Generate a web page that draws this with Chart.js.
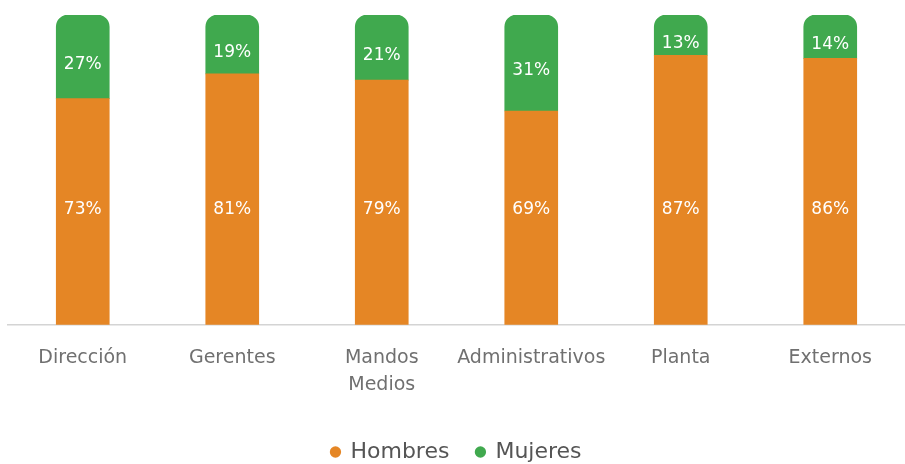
<!DOCTYPE html>
<html>
<head>
<meta charset="utf-8">
<script src="https://cdn.jsdelivr.net/npm/chart.js@4/dist/chart.umd.min.js"></script>
<style>
html,body{margin:0;padding:0;background:#fff;}
#wrap{width:905px;height:464px;position:relative;}
</style>
</head>
<body>
<div id="wrap"><canvas id="c" width="905" height="464"></canvas></div>
<script>
const categories = ['Dirección', 'Gerentes', ['Mandos', 'Medios'], 'Administrativos', 'Planta', 'Externos'];
const hombres = [73, 81, 79, 69, 87, 86];
const mujeres = [27, 19, 21, 31, 13, 14];
const seriesNames = ['Hombres', 'Mujeres'];

const FONT = "'DejaVu Sans', 'Open Sans', sans-serif";
const ORANGE_LABEL_LEVEL = 37.5; // label level (percent of axis) for the lower segment

const labelPlugin = {
  id: 'segLabels',
  afterDatasetsDraw(chart) {
    const ctx = chart.ctx;
    const yScale = chart.scales.y;
    ctx.save();
    ctx.fillStyle = '#ffffff';
    ctx.font = '17px ' + FONT;
    ctx.textAlign = 'center';
    ctx.textBaseline = 'middle';
    chart.data.datasets.forEach((ds, di) => {
      const meta = chart.getDatasetMeta(di);
      meta.data.forEach((bar, i) => {
        const top = Math.min(bar.y, bar.base);
        const bot = Math.max(bar.y, bar.base);
        let y;
        if (di === 0) {
          y = yScale.getPixelForValue(Math.min(ORANGE_LABEL_LEVEL, ds.data[i] - 5)) + 1;
        } else {
          y = (top + bot) / 2 + 8;
        }
        ctx.fillText(ds.data[i] + '%', bar.x, y);
      });
    });
    ctx.restore();
  }
};

new Chart(document.getElementById('c'), {
  type: 'bar',
  data: {
    labels: categories,
    datasets: [
      {
        label: seriesNames[0],
        data: hombres,
        backgroundColor: '#E58625',
        borderWidth: 0,
        barThickness: 53,
        pointStyle: 'circle'
      },
      {
        label: seriesNames[1],
        data: mujeres,
        backgroundColor: '#40A94E',
        borderWidth: 0,
        barThickness: 53,
        borderRadius: {topLeft: 12, topRight: 12, bottomLeft: 0, bottomRight: 0},
        borderSkipped: false,
        pointStyle: 'circle'
      }
    ]
  },
  options: {
    responsive: false,
    animation: false,
    layout: {padding: {top: 15, left: 8, right: 0, bottom: -9}},
    scales: {
      x: {
        stacked: true,
        grid: {display: false},
        border: {display: true, color: '#D4D4D4', width: 1.5},
        ticks: {
          color: '#707070',
          font: {family: FONT, size: 19, lineHeight: 1.4},
          padding: 12,
          maxRotation: 0,
          autoSkip: false
        },
        afterFit(scale) { scale.height += 4; }
      },
      y: {
        stacked: true,
        display: false,
        min: 0,
        max: 100
      }
    },
    plugins: {
      legend: {
        position: 'bottom',
        labels: {
          color: '#555555',
          font: {family: FONT, size: 22},
          usePointStyle: true,
          boxWidth: 8,
          boxHeight: 8,
          padding: 27
        }
      },
      tooltip: {enabled: false}
    }
  },
  plugins: [labelPlugin]
});
</script>
</body>
</html>
